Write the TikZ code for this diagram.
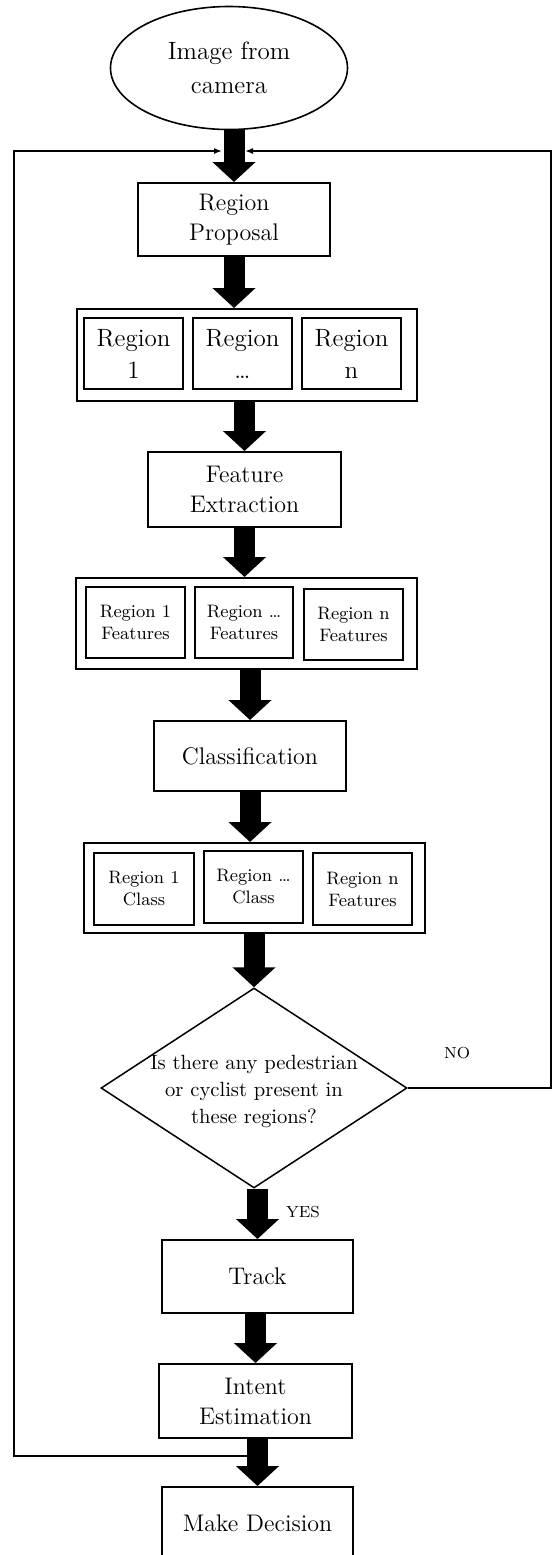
\documentclass[tikz,border=0pt]{standalone}
\usepackage{tikz}
\usetikzlibrary{positioning,arrows.meta,shapes.geometric,calc}

\begin{document}
\begin{tikzpicture}[
    x=0.5pt, y=-0.5pt,
    >=Latex,
    startnode/.style={ellipse, draw, line width=0.8pt, inner sep=0pt, align=center, font=\fontsize{12.5}{17}\selectfont},
    procbox/.style={rectangle, draw, line width=1pt, inner sep=2pt, align=center, font=\fontsize{12}{15}\selectfont},
    groupbox/.style={rectangle, draw, line width=1pt, inner sep=0pt},
    regbox/.style={rectangle, draw, line width=1pt, inner sep=1pt, align=center, font=\fontsize{12.5}{16}\selectfont},
    smallbox/.style={rectangle, draw, line width=1pt, inner sep=1pt, align=center, font=\fontsize{9}{11}\selectfont},
    decision/.style={diamond, draw, line width=0.75pt, inner sep=0pt},
    qtext/.style={align=center, font=\fontsize{10.3}{13.5}\selectfont},
    answer/.style={font=\fontsize{8}{10}\selectfont},
    bigarrow/.style={line width=10.5pt, -{Triangle[width=21pt,length=10pt]}},
    loopline/.style={line width=0.75pt, -{Latex[length=4pt,width=3pt]}}
]
\useasboundingbox (0,0) rectangle (553,1555);

% === Input ===
\node[startnode, minimum width=118.5pt, minimum height=61.5pt] (cam) at (229,68) {Image from\\camera};

% === Region proposal ===
\node[procbox, minimum width=96pt, minimum height=36.5pt] (prop) at (234,219.5) {Region\\Proposal};
\draw[bigarrow] (prop.north |- cam.south) -- (prop.north);

% === Regions ===
\node[groupbox, minimum width=170pt, minimum height=46pt] (regs) at (246.5,355) {};
\node[regbox, minimum width=49.5pt, minimum height=35.5pt] (reg1) at (133.5,353.5) {Region\\1};
\node[regbox, minimum width=49.5pt, minimum height=35.5pt] (reg2) at (242.5,353.5) {Region\\\dots};
\node[regbox, minimum width=49.5pt, minimum height=35.5pt] (reg3) at (351.5,353.5) {Region\\n};
\draw[bigarrow] (prop.south) -- (prop.south |- regs.north);

% === Feature extraction ===
\node[procbox, minimum width=96.5pt, minimum height=37.5pt] (feat) at (244.5,489.5) {Feature\\Extraction};
\draw[bigarrow] (feat.north |- regs.south) -- (feat.north);

% === Region features ===
\node[groupbox, minimum width=170.5pt, minimum height=45.5pt] (feats) at (246.5,623.5) {};
\node[smallbox, minimum width=49.5pt, minimum height=35.5pt] (feat1) at (135.5,622.5) {Region 1\\Features};
\node[smallbox, minimum width=49pt, minimum height=35.5pt] (feat2) at (244,622.5) {Region \dots\\Features};
\node[smallbox, minimum width=49.5pt, minimum height=35.5pt] (feat3) at (353.5,624.5) {Region n\\Features};
\draw[bigarrow] (feat.south) -- (feat.south |- feats.north);

% === Classification ===
\node[procbox, minimum width=96pt, minimum height=35pt] (cls) at (250,756) {Classification};
\draw[bigarrow] (cls.north |- feats.south) -- (cls.north);

% === Region classes ===
\node[groupbox, minimum width=170.5pt, minimum height=45pt] (clss) at (254.5,888) {};
\node[smallbox, minimum width=50pt, minimum height=36pt] (cls1) at (144,889) {Region 1\\Class};
\node[smallbox, minimum width=49.5pt, minimum height=36pt] (cls2) at (253.5,887) {Region \dots\\Class};
\node[smallbox, minimum width=49.5pt, minimum height=36pt] (cls3) at (362.5,889) {Region n\\Features};
\draw[bigarrow] (cls.south) -- (cls.south |- clss.north);

% === Decision ===
\node[decision, minimum width=153pt, minimum height=100pt] (dec) at (254,1088) {};
\node[qtext] (decTxt) at (254,1091) {Is there any pedestrian\\or cyclist present in\\these regions?};
\draw[bigarrow] (dec.north |- clss.south) -- (dec.north);

\node[answer] (noLbl) at (457,1053) {NO};
\node[answer] (yesLbl) at (303,1212) {YES};

% === Track / intent / decide ===
\node[procbox, minimum width=95.5pt, minimum height=36.5pt] (track) at (257.5,1276.5) {Track};
\node[procbox, minimum width=96.5pt, minimum height=37pt] (intent) at (255.5,1401) {Intent\\Estimation};
\node[procbox, minimum width=95.5pt, minimum height=36.5pt] (decide) at (257.5,1523.5) {Make Decision};
\draw[bigarrow] (track.north |- dec.south) -- (track.north);
\draw[bigarrow] (intent.north |- track.south) -- (intent.north);
\draw[bigarrow] (decide.north |- intent.south) -- (decide.north);

% === Feedback loops ===
\coordinate (inL) at (222,151);
\coordinate (inR) at (245,151);
\coordinate (outL) at (247,1456);
\coordinate (cornerL) at (14,1456);
\coordinate (cornerR) at (551,1088);
\draw[loopline] (outL) -- (cornerL) |- (inL);
\draw[loopline] (dec.east) -- (cornerR) |- (inR);
\end{tikzpicture}
\end{document}
